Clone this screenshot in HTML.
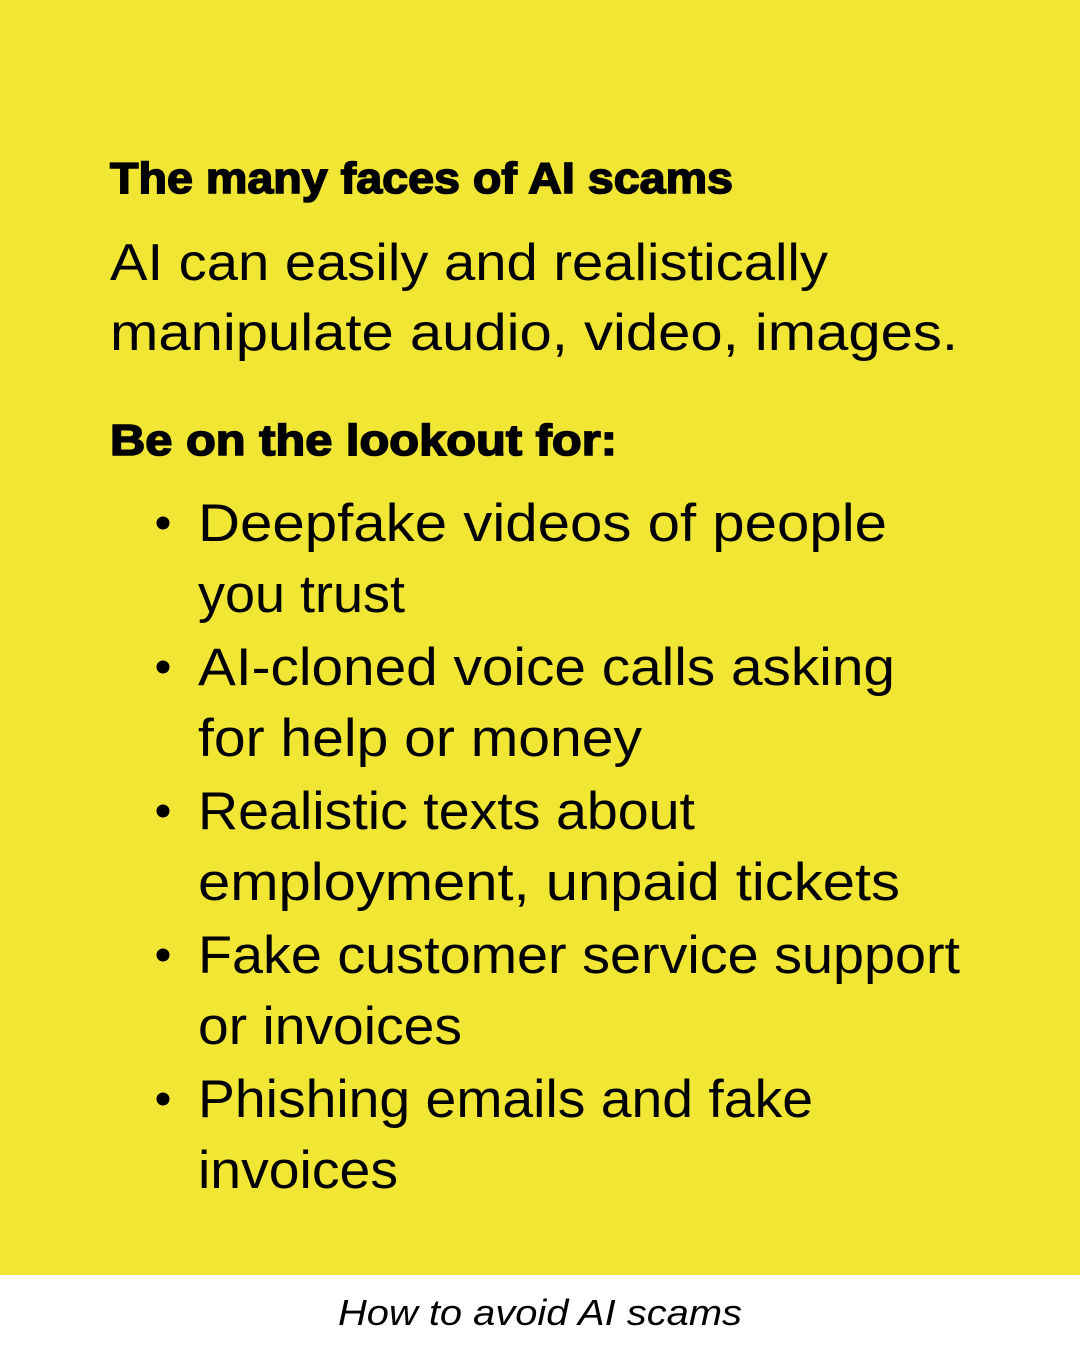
<!DOCTYPE html>
<html><head><meta charset="utf-8"><style>
html,body{margin:0;padding:0;}
body{width:1080px;height:1350px;overflow:hidden;background:#F1E633;}
svg{display:block}
</style></head><body>
<svg width="1080" height="1350" xmlns="http://www.w3.org/2000/svg">
<rect width="1080" height="1350" fill="#F1E633"/>
<rect y="1275" width="1080" height="75" fill="#ffffff"/>
<g font-family="Liberation Sans, sans-serif" fill="#000">
<text x="110" y="193" font-size="44" font-weight="bold" stroke="#000" stroke-width="1.6" textLength="623" lengthAdjust="spacingAndGlyphs">The many faces of AI scams</text>
<text x="110" y="280" font-size="52" textLength="718" lengthAdjust="spacingAndGlyphs">AI can easily and realistically</text>
<text x="110" y="350" font-size="52" textLength="848" lengthAdjust="spacingAndGlyphs">manipulate audio, video, images.</text>
<text x="110" y="455" font-size="44" font-weight="bold" stroke="#000" stroke-width="1.6" textLength="507" lengthAdjust="spacingAndGlyphs">Be on the lookout for:</text>
<g font-size="53">
<text x="198" y="541" textLength="689" lengthAdjust="spacingAndGlyphs">Deepfake videos of people</text>
<text x="198" y="612" textLength="207" lengthAdjust="spacingAndGlyphs">you trust</text>
<text x="198" y="685" textLength="697" lengthAdjust="spacingAndGlyphs">AI-cloned voice calls asking</text>
<text x="198" y="756" textLength="444" lengthAdjust="spacingAndGlyphs">for help or money</text>
<text x="198" y="829" textLength="497" lengthAdjust="spacingAndGlyphs">Realistic texts about</text>
<text x="198" y="900" textLength="702" lengthAdjust="spacingAndGlyphs">employment, unpaid tickets</text>
<text x="198" y="973" textLength="762" lengthAdjust="spacingAndGlyphs">Fake customer service support</text>
<text x="198" y="1044" textLength="264" lengthAdjust="spacingAndGlyphs">or invoices</text>
<text x="198" y="1117" textLength="615" lengthAdjust="spacingAndGlyphs">Phishing emails and fake</text>
<text x="198" y="1188" textLength="200" lengthAdjust="spacingAndGlyphs">invoices</text>
</g>
<circle cx="163" cy="523" r="6.5"/>
<circle cx="163" cy="667" r="6.5"/>
<circle cx="163" cy="811" r="6.5"/>
<circle cx="163" cy="955" r="6.5"/>
<circle cx="163" cy="1099" r="6.5"/>
<text x="338" y="1325" font-size="36" font-style="italic" textLength="404" lengthAdjust="spacingAndGlyphs">How to avoid AI scams</text>
</g>
</svg>
</body></html>
